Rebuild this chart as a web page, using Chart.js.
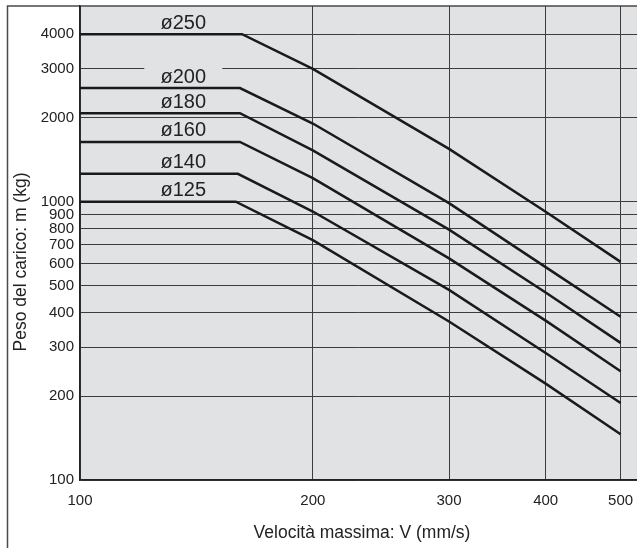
<!DOCTYPE html>
<html>
<head>
<meta charset="utf-8">
<script src="https://cdn.jsdelivr.net/npm/chart.js@4/dist/chart.umd.min.js"></script>
<style>
  html, body { margin: 0; padding: 0; background: #ffffff; }
  #wrap { width: 637px; height: 548px; position: relative; }
</style>
</head>
<body>
<div id="wrap"><canvas id="loadChart"></canvas></div>
<script>
// bore sizes and the speed where each curve starts to fall
const boreLabels = ['ø250', 'ø200', 'ø180', 'ø160', 'ø140', 'ø125'];
const kneeSpeeds = [162, 161, 161, 161, 160, 159];

// loads (kg) read at V = 100, 200, 300, 400, 500 mm/s
const speeds = [100, 200, 300, 400, 500];
const load250 = [4000, 3000, 1548, 920, 608];
const load200 = [2560, 1910, 988, 582, 386];
const load180 = [2080, 1530, 794, 472, 311];
const load160 = [1640, 1215, 626, 374, 246];
const load140 = [1260, 922, 482, 286, 189];
const load125 = [1000, 728, 371, 222, 146];
const allLoads = [load250, load200, load180, load160, load140, load125];

// tick labels
const xTicks = [100, 200, 300, 400, 500];
const yTicks = [100, 200, 300, 400, 500, 600, 700, 800, 900, 1000, 2000, 3000, 4000];

const labelSpeed = 136;
const plotGray = '#e1e2e4';
const inkColor = '#222222';
const fontName = '"Liberation Sans", Arial, Helvetica, sans-serif';

function buildPoints(loads, knee) {
  const pts = [{ x: speeds[0], y: loads[0] }, { x: knee, y: loads[0] }];
  for (let i = 1; i < speeds.length; i++) {
    pts.push({ x: speeds[i], y: loads[i] });
  }
  return pts;
}

const datasets = allLoads.map((loads, i) => ({
  label: boreLabels[i],
  data: buildPoints(loads, kneeSpeeds[i]),
  borderColor: '#1a1a1a',
  borderWidth: 2.5,
  pointRadius: 0,
  tension: 0,
  fill: false
}));

const paperPlugin = {
  id: 'paper',
  beforeDraw(chart) {
    const { ctx, chartArea: a } = chart;
    ctx.save();
    ctx.fillStyle = plotGray;
    ctx.fillRect(a.left, a.top, a.right - a.left, a.bottom - a.top);
    // outer frame of the figure
    ctx.strokeStyle = '#4a4a4a';
    ctx.lineWidth = 1.5;
    ctx.beginPath();
    ctx.moveTo(7.5, chart.height);
    ctx.lineTo(7.5, a.top);
    ctx.lineTo(chart.width, a.top);
    ctx.stroke();
    ctx.restore();
  },
  beforeDatasetsDraw(chart) {
    const { ctx } = chart;
    const xs = chart.scales.x;
    const ys = chart.scales.y;
    ctx.save();
    ctx.font = '20px ' + fontName;
    ctx.textAlign = 'center';
    ctx.textBaseline = 'alphabetic';
    boreLabels.forEach((lab, i) => {
      const px = xs.getPixelForValue(labelSpeed);
      const py = ys.getPixelForValue(allLoads[i][0]) - 5.5;
      ctx.fillStyle = plotGray;
      ctx.fillRect(px - 39, py - 17, 78, 19);
      ctx.fillStyle = inkColor;
      ctx.fillText(lab, px, py);
    });
    ctx.restore();
  },
  afterDraw(chart) {
    const { ctx } = chart;
    ctx.save();
    ctx.fillStyle = inkColor;
    ctx.font = '17.5px ' + fontName;
    ctx.textAlign = 'center';
    ctx.textBaseline = 'middle';
    ctx.fillText('Velocità massima: V (mm/s)', 362, 533);
    ctx.translate(21, 262);
    ctx.rotate(-Math.PI / 2);
    ctx.fillText('Peso del carico: m (kg)', 0, 0);
    ctx.restore();
  }
};

new Chart(document.getElementById('loadChart'), {
  type: 'line',
  data: { datasets: datasets },
  options: {
    responsive: true,
    maintainAspectRatio: false,
    animation: false,
    layout: { padding: { left: 0, top: 6, right: 0, bottom: 0 } },
    plugins: {
      legend: { display: false },
      tooltip: { enabled: false }
    },
    scales: {
      x: {
        type: 'logarithmic',
        min: 100,
        max: 525,
        afterBuildTicks(scale) {
          scale.ticks = xTicks.map(v => ({ value: v }));
        },
        afterFit(scale) {
          scale.height = 68;
          scale.paddingLeft = 0;
          scale.paddingRight = 0;
        },
        grid: { color: '#3c3c3c', lineWidth: 1, drawTicks: false },
        border: { color: '#222222', width: 1.5 },
        ticks: {
          autoSkip: false,
          maxRotation: 0,
          padding: 12,
          color: inkColor,
          font: { family: fontName, size: 15 },
          callback: v => String(v)
        }
      },
      y: {
        type: 'logarithmic',
        min: 100,
        max: 5050,
        afterBuildTicks(scale) {
          scale.ticks = yTicks.map(v => ({ value: v }));
        },
        afterFit(scale) {
          scale.width = 80;
          scale.paddingTop = 0;
          scale.paddingBottom = 0;
        },
        grid: { color: '#3c3c3c', lineWidth: 1, drawTicks: false },
        border: { color: '#222222', width: 1.5 },
        ticks: {
          autoSkip: false,
          padding: 6,
          color: inkColor,
          font: { family: fontName, size: 15 },
          callback: v => String(v)
        }
      }
    }
  },
  plugins: [paperPlugin]
});
</script>
</body>
</html>
